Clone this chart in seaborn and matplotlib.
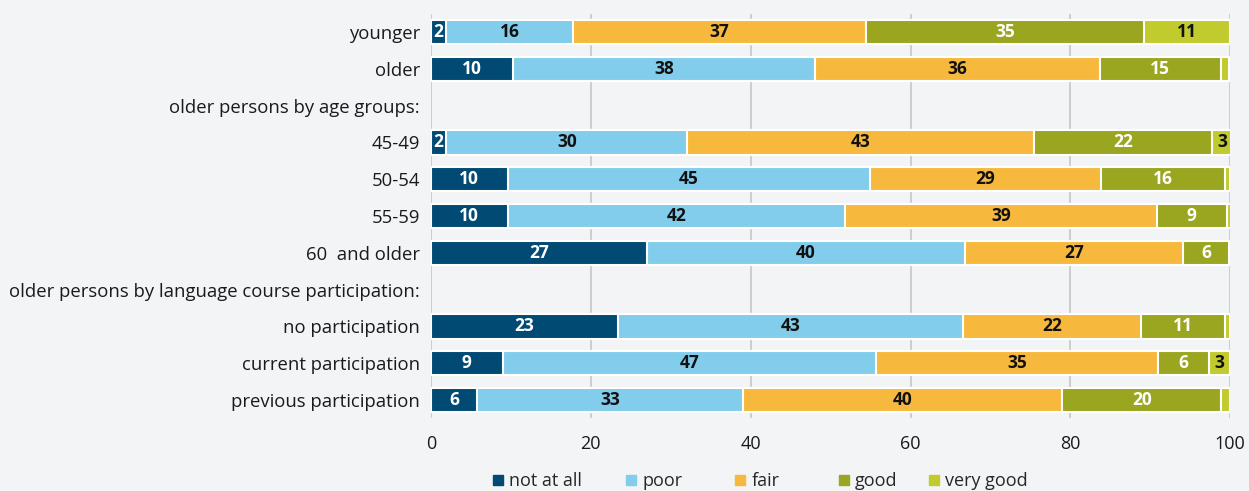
import matplotlib
matplotlib.use("Agg")
import matplotlib.pyplot as plt
from matplotlib.lines import Line2D
import seaborn as sns
import numpy as np
import pandas as pd

# rows (empty values = section headers)
rows = ["younger", "older", "older persons by age groups:", "45-49", "50-54",
        "55-59", "60  and older", "older persons by language course participation:",
        "no participation", "current participation", "previous participation"]
levels = ["not at all", "poor", "fair", "good", "very good"]

not_at_all = [1.9, 10.3, np.nan, 1.9, 9.6, 9.6, 27.0, np.nan, 23.4, 9.0, 5.8]
poor       = [15.9, 37.7, np.nan, 30.2, 45.3, 42.2, 39.8, np.nan, 43.2, 46.7, 33.2]
fair       = [36.6, 35.7, np.nan, 43.4, 28.9, 39.0, 27.3, np.nan, 22.2, 35.3, 40.0]
good       = [34.8, 15.1, np.nan, 22.2, 15.6, 8.8, 5.8, np.nan, 10.6, 6.3, 19.9]
very_good  = [10.8, 1.1, np.nan, 2.6, 0.6, 0.5, 0.0, np.nan, 0.6, 2.7, 1.1]

colors = ["#004a73", "#82cdeb", "#f7b93d", "#9ba620", "#c2cb2e"]
text_colors = ["white", "#111111", "#111111", "white", "#111111"]

sns.set_style("white")
plt.rcParams["font.family"] = ["Open Sans", "DejaVu Sans"]

df = pd.DataFrame({"row": rows, "not at all": not_at_all, "poor": poor,
                   "fair": fair, "good": good, "very good": very_good})
cum = df[levels].cumsum(axis=1)

fig = plt.figure(figsize=(12.49, 4.91), dpi=100, facecolor="#f3f4f6")
ax = fig.add_axes([0.345, 0.148, 0.64, 0.824])
ax.set_facecolor("#f3f4f6")

for x in [0, 20, 40, 60, 80, 100]:
    ax.axvline(x, color="#cccccc", lw=1.4, zorder=0)

# draw cumulative bars from longest to shortest so segments stack
for lev, col in reversed(list(zip(levels, colors))):
    sns.barplot(x=cum[lev], y=df["row"], orient="h", color=col, order=rows,
                width=0.66, edgecolor="white", linewidth=1.5, saturation=1,
                ax=ax, zorder=2)

for i, lev in enumerate(levels):
    starts = cum[lev] - df[lev]
    for j, v in enumerate(df[lev]):
        if np.isnan(v) or v < 1.5:
            continue
        ax.text(starts[j] + v / 2, j, f"{round(v)}", ha="center", va="center",
                color=text_colors[i], fontsize=12.5, fontweight="bold", zorder=3)

ax.set_xlim(0, 100)
ax.set_ylim(len(rows) - 0.5, -0.5)
ax.set_xticks([0, 20, 40, 60, 80, 100])
ax.set_xlabel("")
ax.set_ylabel("")
ax.tick_params(axis="both", length=0, labelsize=13.3, colors="#1a1a1a", pad=8)
ax.tick_params(axis="x", labelsize=13, pad=12)
sns.despine(ax=ax, left=True, bottom=True)

# one legend entry per slot, like the original layout
legend_x = [0.3947, 0.5012, 0.5885, 0.6717, 0.7438]
for lev, col, lx in zip(levels, colors, legend_x):
    h = Line2D([0], [0], marker="s", color="none", markerfacecolor=col,
               markeredgecolor=col, markersize=7.5)
    fig.legend([h], [lev], loc="center left", bbox_to_anchor=(lx, 0.02),
               frameon=False, fontsize=13, handlelength=0.6,
               handletextpad=0.3, borderpad=0, borderaxespad=0)

fig.savefig("out.png", dpi=100, facecolor=fig.get_facecolor())
